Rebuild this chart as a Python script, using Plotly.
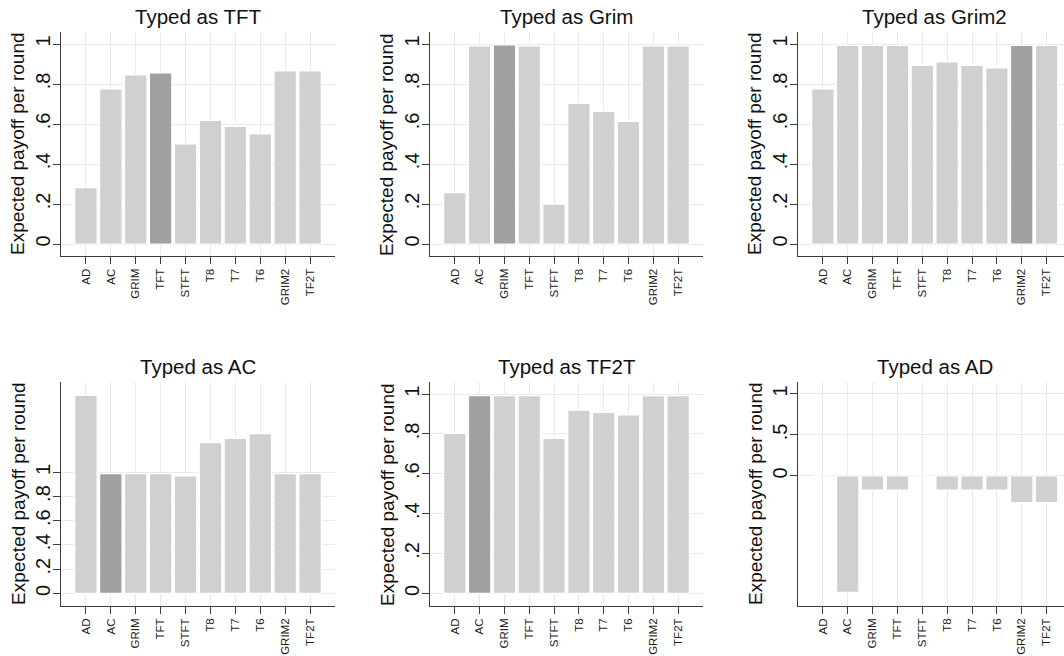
import plotly.graph_objects as go

categories = ["AD", "AC", "GRIM", "TFT", "STFT", "T8", "T7", "T6", "GRIM2", "TF2T"]

panel_titles = ["Typed as TFT", "Typed as Grim", "Typed as Grim2",
                "Typed as AC", "Typed as TF2T", "Typed as AD"]
highlighted = ["TFT", "GRIM", "GRIM2", "AC", "AC", None]

typed_tft = [0.282, 0.775, 0.846, 0.855, 0.500, 0.618, 0.588, 0.551, 0.866, 0.866]
typed_grim = [0.257, 0.990, 0.995, 0.990, 0.199, 0.703, 0.663, 0.613, 0.990, 0.990]
typed_grim2 = [0.775, 0.993, 0.993, 0.993, 0.893, 0.910, 0.893, 0.880, 0.993, 0.993]
typed_ac = [1.636, 0.989, 0.989, 0.989, 0.970, 1.245, 1.281, 1.320, 0.989, 0.989]
typed_tf2t = [0.803, 0.992, 0.992, 0.992, 0.778, 0.918, 0.908, 0.896, 0.992, 0.992]
typed_ad = [0.0, -1.419, -0.171, -0.171, 0.0, -0.171, -0.171, -0.171, -0.325, -0.325]

series = [typed_tft, typed_grim, typed_grim2, typed_ac, typed_tf2t, typed_ad]

ytick_vals = [[0, 0.2, 0.4, 0.6, 0.8, 1]] * 5 + [[0, 0.5, 1]]
ytick_text = [["0", ".2", ".4", ".6", ".8", "1"]] * 5 + [["0", ".5", "1"]]
y_ranges = [[-0.06, 1.06], [-0.06, 1.06], [-0.06, 1.06],
            [-0.102, 1.744], [-0.062, 1.059], [-1.581, 1.142]]

W, H = 1064, 656
col_px = [(61, 335), (430, 703), (798, 1064)]   # page pixels
row_px = [(32, 256), (382.3, 605.7)]
x_ranges = [[-1, 10], [-1, 10], [-1, 9.7]]

FONT = "Liberation Sans, Arial, Helvetica, sans-serif"
LIGHT = "#d0d0d0"
DARK = "#a0a0a0"
GRID = "#eaeaea"
AXIS = "#3c3c3c"


def px_x(p):
    return p / W


def px_y(p):
    return 1 - p / H


fig = go.Figure()
annotations = []
for i in range(6):
    r, c = divmod(i, 3)
    n = i + 1
    xa = "x" if n == 1 else f"x{n}"
    ya = "y" if n == 1 else f"y{n}"
    colors = [DARK if cat == highlighted[i] else LIGHT for cat in categories]
    fig.add_trace(go.Bar(
        x=categories, y=series[i], xaxis=xa, yaxis=ya,
        marker=dict(color=colors, line=dict(color="white", width=1.2)),
        width=0.9, showlegend=False, hoverinfo="x+y",
    ))
    x0, x1 = col_px[c]
    y0, y1 = row_px[r]
    xdom = [px_x(x0), min(px_x(x1), 1.0)]
    ydom = [px_y(y1), px_y(y0)]
    fig.layout[f"xaxis{'' if n == 1 else n}"] = dict(
        domain=xdom, anchor=ya, type="category", range=x_ranges[c],
        categoryorder="array", categoryarray=categories,
        showgrid=True, gridcolor=GRID, gridwidth=1.3,
        showline=True, linecolor=AXIS, linewidth=1.3,
        ticks="outside", ticklen=7, tickcolor=AXIS, tickwidth=1,
        tickangle=-90, tickfont=dict(family=FONT, size=11.5, color="#222"),
        zeroline=False, fixedrange=True, automargin=False,
    )
    fig.layout[f"yaxis{'' if n == 1 else n}"] = dict(
        domain=ydom, anchor=xa, range=y_ranges[i],
        tickvals=ytick_vals[i], ticktext=ytick_text[i],
        showgrid=True, gridcolor=GRID, gridwidth=1.3,
        showline=True, linecolor=AXIS, linewidth=1.3,
        ticks="outside", ticklen=7, tickcolor=AXIS, tickwidth=1,
        tickangle=-90, tickfont=dict(family=FONT, size=20, color="#111"),
        ticklabelstandoff=-5,
        zeroline=False, fixedrange=True, automargin=False,
    )
    xc = (x0 + x1) / 2
    if c == 2:
        xc = (x0 + 1071) / 2
    annotations.append(dict(
        text=panel_titles[i], xref="paper", yref="paper",
        x=px_x(xc), y=px_y(y0 - 16), xanchor="center", yanchor="middle",
        showarrow=False, font=dict(family=FONT, size=20.5, color="#111"),
    ))
    annotations.append(dict(
        text="Expected payoff per round", xref="paper", yref="paper",
        x=px_x(x0 - 43), y=px_y((y0 + y1) / 2), xanchor="center", yanchor="middle",
        textangle=-90, showarrow=False, font=dict(family=FONT, size=19, color="#111"),
    ))

fig.update_layout(
    width=W, height=H, margin=dict(l=0, r=0, t=0, b=0),
    paper_bgcolor="white", plot_bgcolor="white",
    annotations=annotations, bargap=0.1,
)

fig.write_html(
    "out.html",
    config={"displayModeBar": False},
    post_script="document.body.style.margin='0';document.body.style.overflow='hidden';",
)
